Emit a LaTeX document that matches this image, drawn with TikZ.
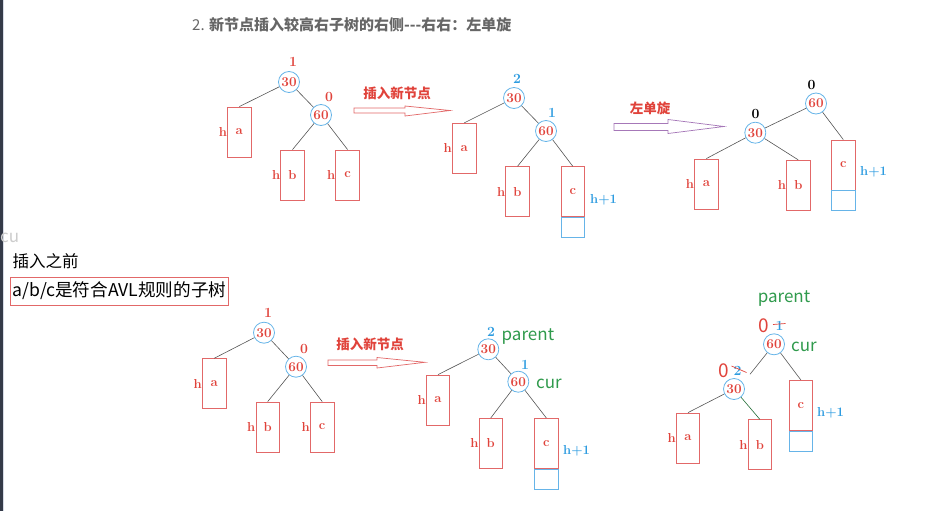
\documentclass[tikz,border=0pt]{standalone}
\usepackage{fontspec}
\newfontfamily\cjk{Noto Sans CJK SC}
\usetikzlibrary{positioning}
\definecolor{nodered}{HTML}{E0433B}
\definecolor{boxred}{HTML}{E26868}
\definecolor{ringblue}{HTML}{66B4E8}
\definecolor{bfblue}{HTML}{2E9CE0}
\definecolor{curgreen}{HTML}{2F9A4C}
\definecolor{titlegray}{HTML}{666666}
\definecolor{arrowpurple}{HTML}{A678B8}
\definecolor{edgegray}{HTML}{555555}
\tikzset{
  avl/.style={
    circle,
    draw=ringblue,
    line width=0.8pt,
    minimum size=21pt,
    inner sep=0pt,
    text=nodered,
    font=\fontsize{13.5}{13.5}\selectfont\bfseries
  },
  subtree/.style={
    draw=boxred,
    line width=0.8pt,
    minimum width=23.5pt,
    minimum height=50pt,
    inner sep=0pt,
    text=nodered,
    font=\fontsize{13}{13}\selectfont\bfseries,
    label distance=2pt
  },
  grown/.style={
    draw=ringblue,
    line width=0.8pt,
    minimum width=23.5pt,
    minimum height=20pt,
    inner sep=0pt
  },
  hlab/.style={text=nodered, font=\fontsize{13}{13}\selectfont\bfseries, inner sep=0pt},
  bf/.style={text=nodered, font=\fontsize{14}{14}\selectfont\bfseries, inner sep=0pt},
  bfnew/.style={text=bfblue, font=\fontsize{14}{14}\selectfont\bfseries, inner sep=0pt},
  hplus/.style={text=bfblue, font=\fontsize{13}{13}\selectfont\bfseries, inner sep=0pt},
  ptr/.style={text=curgreen, font=\cjk\fontsize{17}{17}\selectfont, inner sep=0pt},
  steplab/.style={text=nodered, font=\cjk\fontsize{13.5}{13.5}\selectfont\bfseries, inner sep=0pt},
  link/.style={draw=edgegray, line width=0.6pt},
  hollow/.style={line width=0.7pt, fill=white}
}

\begin{document}
\begin{tikzpicture}[x=1pt,y=-1pt]
  \useasboundingbox (0,0) rectangle (925,511);
  % window edge on the left
  \fill[fill={rgb,255:red,52;green,58;blue,72}] (0,0) rectangle (2.5,511);
  \fill[fill={rgb,255:red,214;green,219;blue,230}] (2.5,0) rectangle (4,511);
  \node[anchor=west, inner sep=0pt, text=black!20, font=\cjk\fontsize{17}{17}\selectfont] (ghost) at (0,238) {cu};

  \node[anchor=west, inner sep=0pt, text=titlegray, font=\cjk\fontsize{15}{15}\selectfont] (title) at (192,25) {2. \textbf{新节点插入较高右子树的右侧---右右：左单旋}};

  % ---- top: before insertion
  \node[avl] (A30) at (289,82) {30};
  \node[avl] (A60) at (321,115) {60};
  \node[bf] (A30bf) at (293,62) {1};
  \node[bf] (A60bf) at (329,97) {0};
  \node[subtree, label={[hlab]left:h}] (Aa) at (239.3,132) {a};
  \node[subtree, label={[hlab]left:h}] (Ab) at (292.5,175) {b};
  \node[subtree, label={[hlab]left:h}] (Ac) at (347.6,175) {c};
  \draw[link] (A30) -- (Aa.north);
  \draw[link] (A30) -- (A60);
  \draw[link] (A60) -- (Ab.north);
  \draw[link] (A60) -- (Ac.north);

  \node[steplab] (ins1) at (397,93) {插入新节点};
  \draw[hollow, draw=boxred] (354,108) -- (405,108) -- (405,106) -- (450,110.5)
    -- (405,116) -- (405,113) -- (354,113) -- cycle;

  % ---- top: after insertion
  \node[avl] (B30) at (514,98) {30};
  \node[avl] (B60) at (546,131) {60};
  \node[bfnew] (B30bf) at (517,79) {2};
  \node[bfnew] (B60bf) at (552,113) {1};
  \node[subtree, label={[hlab]left:h}] (Ba) at (464.2,148.3) {a};
  \node[subtree, label={[hlab]left:h}] (Bb) at (517.5,191.7) {b};
  \node[subtree] (Bc) at (572.8,191.7) {c};
  \node[grown, below=0pt of Bc] (Bn) {};
  \node[hplus, anchor=west] (Bh) at (590,199.5) {h+1};
  \draw[link] (B30) -- (Ba.north);
  \draw[link] (B30) -- (B60);
  \draw[link] (B60) -- (Bb.north);
  \draw[link] (B60) -- (Bc.north);

  \node[steplab] (rot) at (650,108) {左单旋};
  \draw[hollow, draw=arrowpurple] (614,123.5) -- (668,123.5) -- (668,119.5) -- (724,126.5)
    -- (668,133.5) -- (668,130.5) -- (614,130.5) -- cycle;

  % ---- top: after rotation
  \node[avl] (C60) at (816,103.5) {60};
  \node[avl] (C30) at (755.3,132.7) {30};
  \node[bf, text=black] (C60bf) at (811.5,85) {0};
  \node[bf, text=black] (C30bf) at (755.5,113.5) {0};
  \node[subtree, label={[hlab]left:h}] (Ca) at (706.3,184) {a};
  \node[subtree, label={[hlab]left:h}] (Cb) at (798.3,185.3) {b};
  \node[subtree] (Cc) at (843.3,165) {c};
  \node[grown, below=0pt of Cc] (Cn) {};
  \node[hplus, anchor=west] (Ch) at (860,172) {h+1};
  \draw[link] (C60) -- (C30);
  \draw[link] (C60) -- (Cc.north);
  \draw[link] (C30) -- (Ca.north);
  \draw[link] (C30) -- (Cb.north);

  % ---- notes on the left
  \node[anchor=west, inner sep=0pt, font=\cjk\fontsize{16.5}{16.5}\selectfont] (before) at (12.5,261.5) {插入之前};
  \node[anchor=west, draw=boxred, line width=0.8pt, minimum height=28pt, inner xsep=2pt,
    font=\cjk\fontsize{17.6}{17.6}\selectfont] (rule) at (10,291) {a/b/c是符合AVL规则的子树};

  % ---- bottom: before insertion
  \node[avl] (D30) at (264,332.7) {30};
  \node[avl] (D60) at (296,366.7) {60};
  \node[bf] (D30bf) at (268,313) {1};
  \node[bf] (D60bf) at (304,349) {0};
  \node[subtree, label={[hlab]left:h}] (Da) at (214.2,383.7) {a};
  \node[subtree, label={[hlab]left:h}] (Db) at (267.7,427) {b};
  \node[subtree, label={[hlab]left:h}] (Dc) at (322.2,427) {c};
  \draw[link] (D30) -- (Da.north);
  \draw[link] (D30) -- (D60);
  \draw[link] (D60) -- (Db.north);
  \draw[link] (D60) -- (Dc.north);

  \node[steplab] (ins2) at (370,344) {插入新节点};
  \draw[hollow, draw=boxred] (328,360) -- (377,360) -- (377,357.5) -- (425,362.3)
    -- (377,368) -- (377,365.5) -- (328,365.5) -- cycle;

  % ---- bottom: after insertion, with pointers
  \node[avl] (E30) at (488.3,349.3) {30};
  \node[avl] (E60) at (518.3,381.7) {60};
  \node[bfnew] (E30bf) at (491,331.5) {2};
  \node[bfnew] (E60bf) at (525,364.5) {1};
  \node[ptr, anchor=west] (Epar) at (501.5,337) {parent};
  \node[ptr, anchor=west] (Ecur) at (536,384) {cur};
  \node[subtree, label={[hlab]left:h}] (Ea) at (438,400) {a};
  \node[subtree, label={[hlab]left:h}] (Eb) at (490.8,443.3) {b};
  \node[subtree] (Ec) at (546.3,443.3) {c};
  \node[grown, below=0pt of Ec] (En) {};
  \node[hplus, anchor=west] (Eh) at (563,450.5) {h+1};
  \draw[link] (E30) -- (Ea.north);
  \draw[link] (E30) -- (E60);
  \draw[link] (E60) -- (Eb.north);
  \draw[link] (E60) -- (Ec.north);

  % ---- bottom: during rotation
  \node[ptr] (Fpar) at (784,298.5) {parent};
  \node[avl] (F60) at (774,344.3) {60};
  \node[avl] (F30) at (734,389) {30};
  \node[ptr, anchor=west] (Fcur) at (791,347) {cur};
  \node[text=nodered, font=\cjk\fontsize{19}{19}\selectfont, inner sep=0pt] (F60bf) at (764,325.5) {0};
  \node[bfnew] (F60old) at (779.5,326) {1};
  \draw[nodered, line width=0.7pt] (773,324.5) -- (785.5,323.5);
  \node[text=nodered, font=\cjk\fontsize{19}{19}\selectfont, inner sep=0pt] (F30bf) at (723.5,371) {0};
  \node[bfnew] (F30old) at (737.5,371) {2};
  \draw[nodered, line width=0.7pt] (731.5,366) -- (746.5,372.5);
  \node[subtree, label={[hlab]left:h}] (Fa) at (688,438) {a};
  \node[subtree, label={[hlab]left:h}] (Fb) at (759.8,444.7) {b};
  \node[subtree] (Fc) at (800.8,405.3) {c};
  \node[grown, below=0pt of Fc] (Fn) {};
  \node[hplus, anchor=west] (Fh) at (817,413) {h+1};
  \coordinate (Fcut) at (750,374.3);
  \draw[link] (F60) -- (Fcut);
  \draw[link] (F60) -- (Fc.north);
  \draw[link] (F30) -- (Fa.north);
  \draw[link, draw=curgreen!70!black] (F30) -- (Fb.north);
\end{tikzpicture}
\end{document}
